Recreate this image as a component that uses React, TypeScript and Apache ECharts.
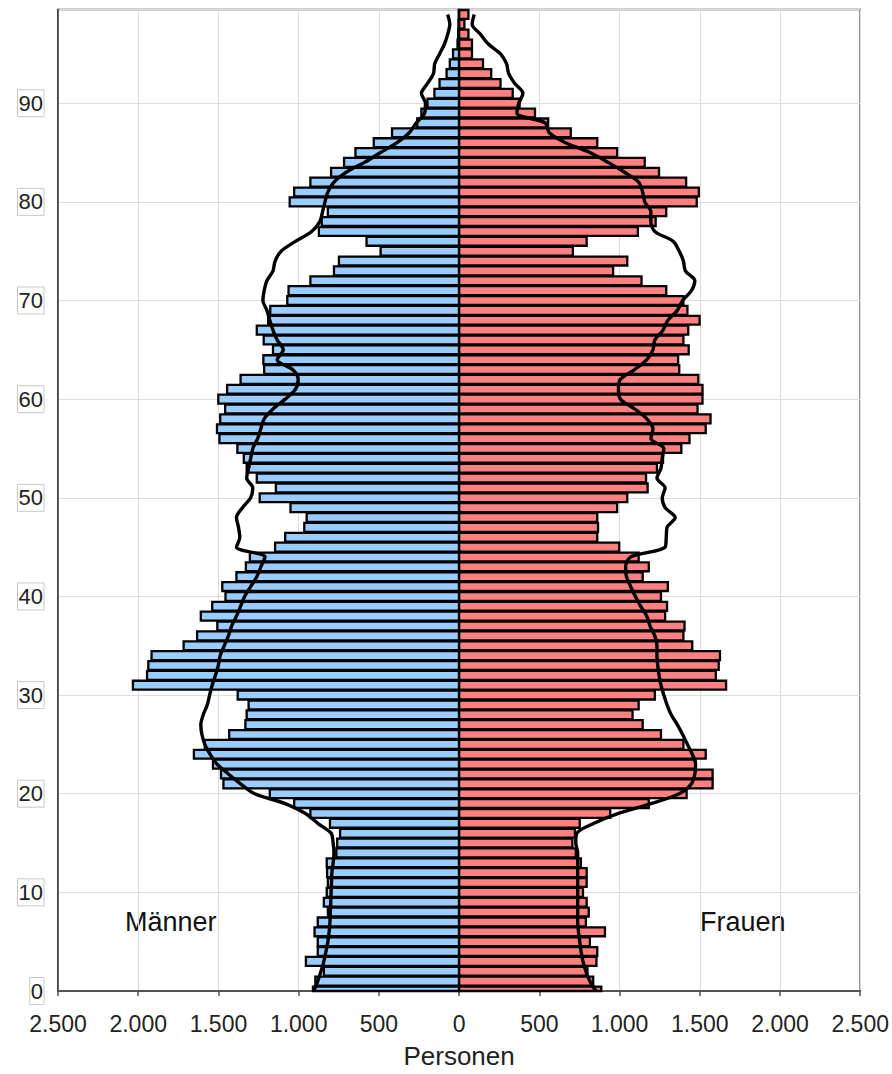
import React, { useEffect, useRef } from 'react';
import * as echarts from 'echarts';

// Index = age in years (0 … 99)
const maleCounts = [
  911, 896, 843, 955, 881, 881, 901, 881, 818, 843,
  825, 818, 823, 825, 765, 760, 742, 805, 927, 1028,
  1180, 1469, 1484, 1534, 1653, 1585, 1433, 1332, 1324, 1312,
  1380, 2033, 1945, 1937, 1917, 1717, 1633, 1507, 1610, 1539,
  1456, 1476, 1388, 1329, 1304, 1147, 1084, 965, 950, 1051,
  1243, 1142, 1261, 1324, 1342, 1382, 1494, 1509, 1489, 1458,
  1501, 1446, 1362, 1215, 1220, 1160, 1218, 1261, 1190, 1177,
  1071, 1063, 927, 780, 749, 489, 577, 874, 856, 818,
  1056, 1028, 927, 798, 717, 646, 532, 418, 261, 235,
  197, 154, 122, 78, 58, 38, 10, 6, 4, 2,
];

const femaleCounts = [
  886, 836, 800, 856, 861, 815, 909, 790, 808, 795,
  772, 795, 795, 759, 727, 706, 722, 752, 942, 1182,
  1418, 1580, 1580, 1474, 1537, 1398, 1258, 1144, 1081, 1119,
  1220, 1664, 1600, 1618, 1626, 1453, 1398, 1405, 1284, 1296,
  1258, 1301, 1144, 1182, 1119, 998, 861, 866, 861, 985,
  1048, 1175, 1165, 1233, 1271, 1385, 1436, 1537, 1567, 1486,
  1517, 1517, 1491, 1372, 1365, 1431, 1398, 1428, 1499, 1423,
  1398, 1291, 1137, 960, 1048, 709, 795, 1114, 1225, 1291,
  1481, 1494, 1415, 1246, 1157, 985, 861, 696, 555, 473,
  377, 334, 258, 200, 149, 80, 80, 58, 33, 58,
];

const maleReference = [
  906, 881, 861, 843, 830, 818, 810, 805, 803, 800,
  798, 795, 793, 785, 780, 785, 798, 881, 957, 1084,
  1274, 1362, 1438, 1509, 1552, 1585, 1603, 1610, 1595, 1570,
  1555, 1539, 1519, 1501, 1489, 1464, 1438, 1418, 1388, 1362,
  1337, 1299, 1261, 1236, 1210, 1388, 1367, 1375, 1388, 1350,
  1299, 1286, 1324, 1312, 1299, 1286, 1256, 1236, 1215, 1160,
  1084, 1020, 1003, 1038, 1134, 1096, 1134, 1160, 1180, 1198,
  1223, 1215, 1198, 1160, 1147, 1109, 1020, 919, 868, 851,
  836, 818, 780, 704, 590, 489, 387, 311, 268, 215,
  210, 235, 197, 160, 152, 122, 91, 71, 58, 71,
];

const femaleReference = [
  853, 815, 790, 772, 760, 752, 744, 739, 739, 739,
  739, 739, 739, 739, 739, 727, 734, 841, 993, 1195,
  1372, 1448, 1469, 1474, 1453, 1423, 1393, 1360, 1322, 1296,
  1276, 1258, 1246, 1238, 1233, 1233, 1220, 1190, 1170, 1132,
  1099, 1069, 1043, 1038, 1069, 1284, 1291, 1296, 1347, 1284,
  1266, 1284, 1233, 1258, 1266, 1276, 1195, 1208, 1170, 1094,
  1005, 993, 1005, 1094, 1170, 1208, 1220, 1271, 1301, 1360,
  1393, 1448, 1469, 1410, 1398, 1372, 1334, 1220, 1195, 1195,
  1157, 1144, 1119, 1031, 929, 815, 663, 562, 537, 360,
  372, 398, 347, 309, 296, 258, 182, 132, 81, 94,
];

const leftLabel = 'Männer';
const rightLabel = 'Frauen';
const xAxisTitle = 'Personen';

const FONT = '"Liberation Sans", Arial, Helvetica, sans-serif';

function formatPersons(v: number): string {
  const a = Math.abs(Math.round(v));
  if (a >= 1000) {
    return `${Math.floor(a / 1000)}.${String(a % 1000).padStart(3, '0')}`;
  }
  return String(a);
}

function makeBarRenderer(fill: string) {
  return (params: any, api: any) => {
    const value = api.value(0);
    const age = api.value(1);
    const pTop = api.coord([0, age + 0.45]);
    const pBottom = api.coord([value, age - 0.45]);
    const rect = {
      x: Math.min(pTop[0], pBottom[0]),
      y: pTop[1],
      width: Math.abs(pBottom[0] - pTop[0]),
      height: pBottom[1] - pTop[1],
    };
    const cs = params.coordSys;
    const clipped = echarts.graphic.clipRectByRect(rect, {
      x: cs.x,
      y: cs.y,
      width: cs.width,
      height: cs.height,
    });
    if (!clipped) return null;
    return {
      type: 'rect',
      shape: clipped,
      style: { fill, stroke: '#000', lineWidth: 2.3 },
    };
  };
}

export default function App() {
  const ref = useRef<HTMLDivElement>(null);

  useEffect(() => {
    if (!ref.current) return;
    const chart = echarts.init(ref.current, null, { renderer: 'svg' });

    const maleBars = maleCounts.map((v, age) => [-v, age]);
    const femaleBars = femaleCounts.map((v, age) => [v, age]);
    const maleLine = maleReference.map((v, age) => [-v, age]);
    const femaleLine = femaleReference.map((v, age) => [v, age]);

    chart.setOption({
      animation: false,
      backgroundColor: '#ffffff',
      textStyle: { fontFamily: FONT },
      grid: {
        left: 58,
        right: 30,
        top: 9.5,
        bottom: 81.5,
        show: true,
        borderColor: '#3a3a3a',
        borderWidth: 1.5,
        containLabel: false,
      },
      xAxis: {
        type: 'value',
        min: -2500,
        max: 2500,
        interval: 500,
        name: xAxisTitle,
        nameLocation: 'middle',
        nameGap: 52,
        nameTextStyle: { fontSize: 26, color: '#222', fontFamily: FONT },
        axisLine: { show: true, onZero: false, lineStyle: { color: '#555', width: 2 } },
        axisTick: { show: true, length: 5, lineStyle: { color: '#555', width: 1.5 } },
        axisLabel: {
          fontSize: 23,
          color: '#222',
          margin: 21,
          fontFamily: FONT,
          formatter: (v: number) => formatPersons(v),
        },
        splitLine: { show: true, lineStyle: { color: '#dcdcdc', width: 1 } },
      },
      yAxis: {
        type: 'value',
        min: 0,
        max: 99.5,
        interval: 10,
        axisLine: { show: true, onZero: false, lineStyle: { color: '#3a3a3a', width: 1.5 } },
        axisTick: { show: false },
        axisLabel: {
          showMaxLabel: false,
          fontSize: 22,
          color: '#222',
          margin: 14,
          fontFamily: FONT,
          borderColor: '#c8c8c8',
          borderWidth: 1,
          padding: [3, 1, 2, 1],
          formatter: (v: number) => (v % 10 === 0 ? String(v) : ''),
        },
        splitLine: { show: true, lineStyle: { color: '#dcdcdc', width: 1 } },
      },
      series: [
        {
          name: leftLabel,
          type: 'custom',
          renderItem: makeBarRenderer('#99ccff'),
          encode: { x: 0, y: 1 },
          data: maleBars,
          z: 2,
        },
        {
          name: rightLabel,
          type: 'custom',
          renderItem: makeBarRenderer('#ff8080'),
          encode: { x: 0, y: 1 },
          data: femaleBars,
          z: 2,
        },
        {
          name: leftLabel + ' Vergleich',
          type: 'line',
          data: maleLine,
          showSymbol: false,
          smooth: 0.3,
          lineStyle: { color: '#000', width: 3.4 },
          z: 4,
          markLine: {
            silent: true,
            symbol: 'none',
            label: { show: false },
            lineStyle: { color: '#000', width: 2.2, type: 'solid' },
            data: [{ xAxis: 0 }],
          },
        },
        {
          name: rightLabel + ' Vergleich',
          type: 'line',
          data: femaleLine,
          showSymbol: false,
          smooth: 0.3,
          lineStyle: { color: '#000', width: 3.4 },
          z: 4,
        },
      ],
      graphic: [
        {
          type: 'text',
          left: 125,
          top: 908,
          style: { text: leftLabel, fontSize: 27, fill: '#111', fontFamily: FONT },
        },
        {
          type: 'text',
          left: 700,
          top: 908,
          style: { text: rightLabel, fontSize: 27, fill: '#111', fontFamily: FONT },
        },
      ],
    });

    return () => {
      chart.dispose();
    };
  }, []);

  return (
    <div
      ref={ref}
      style={{ position: 'fixed', left: 0, top: 0, width: 892, height: 1074, background: '#fff' }}
    />
  );
}
